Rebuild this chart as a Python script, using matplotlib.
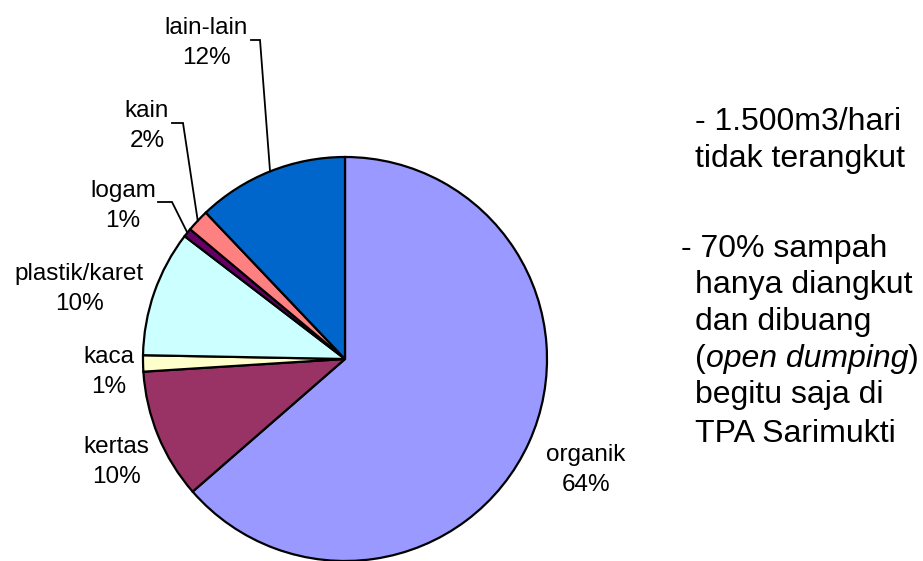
import matplotlib
matplotlib.use("Agg")
import numpy as np
import matplotlib.pyplot as plt

plt.rcParams["font.family"] = ["Liberation Sans", "DejaVu Sans"]

# waste composition (clockwise from 12 o'clock)
categories = ["organik", "kertas", "kaca", "plastik/karet", "logam", "kain", "lain-lain"]
shares = [63.6, 10.4, 1.3, 10.1, 0.7, 1.8, 12.1]
pct_labels = ["64%", "10%", "1%", "10%", "1%", "2%", "12%"]
colors = ["#9999FF", "#993366", "#FFFFCC", "#CCFFFF", "#660066", "#FF8080", "#0066CC"]

note_top = ["- 1.500m3/hari", "tidak terangkut"]
note_bottom = ["- 70% sampah", "hanya diangkut", "dan dibuang",
               "(", "open dumping", ")", "begitu saja di", "TPA Sarimukti"]

# layout in pixels
W, H = 923, 561
CX, CY, R = 345, 359, 202
label_px = [(586, 470), (116, 462), (109, 372), (79, 289), (123, 206), (147, 126), (206, 43)]
# leader lines: (start, elbow) in pixels, None = no leader
leader_px = [None, None, None, None, ((158, 202), (172, 202)),
             ((172, 123), (183, 123)), ((251, 40), (260, 40))]


def to_data(px, py):
    return (px - CX) / R, (CY - py) / R


fig = plt.figure(figsize=(W / 100, H / 100), dpi=100)
ax = fig.add_axes([0, 0, 1, 1])
wedges, _ = ax.pie(shares, colors=colors, startangle=90, counterclock=False,
                   radius=1, wedgeprops=dict(edgecolor="black", linewidth=1.6))
ax.set_xlim(-CX / R, (W - CX) / R)
ax.set_ylim(-(H - CY) / R, CY / R)
ax.set_aspect("equal")
ax.axis("off")

for w, cat, pct, pos, lead in zip(wedges, categories, pct_labels, label_px, leader_px):
    x, y = to_data(*pos)
    ax.text(x, y, f"{cat}\n{pct}", ha="center", va="center", fontsize=17.5,
            multialignment="center", linespacing=1.5, color="black")
    if lead is not None:
        mid = np.deg2rad((w.theta1 + w.theta2) / 2)
        (sx, sy), (ex, ey) = to_data(*lead[0]), to_data(*lead[1])
        ax.plot([sx, ex, np.cos(mid)], [sy, ey, np.sin(mid)],
                color="black", lw=1.3, solid_joinstyle="miter")

# side note
fs = 23
for txt, yb in zip(note_top, [130, 167]):
    x, y = to_data(695, yb)
    ax.text(x, y, txt, fontsize=fs, va="baseline", ha="left")

x, y = to_data(681, 257)
ax.text(x, y, note_bottom[0], fontsize=fs, va="baseline", ha="left")
for txt, yb in zip(note_bottom[1:3], [293, 330]):
    x, y = to_data(695, yb)
    ax.text(x, y, txt, fontsize=fs, va="baseline", ha="left")
x, y = to_data(695, 367)
t1 = ax.text(x, y, note_bottom[3], fontsize=fs, va="baseline", ha="left")
t2 = ax.annotate(note_bottom[4], xy=(1, 0), xycoords=t1, fontsize=fs,
                 va="bottom", ha="left", style="italic")
ax.annotate(note_bottom[5], xy=(1, 0), xycoords=t2, fontsize=fs,
            va="bottom", ha="left")
for txt, yb in zip(note_bottom[6:], [403, 442]):
    x, y = to_data(695, yb)
    ax.text(x, y, txt, fontsize=fs, va="baseline", ha="left")

fig.savefig("out.png", dpi=100)
